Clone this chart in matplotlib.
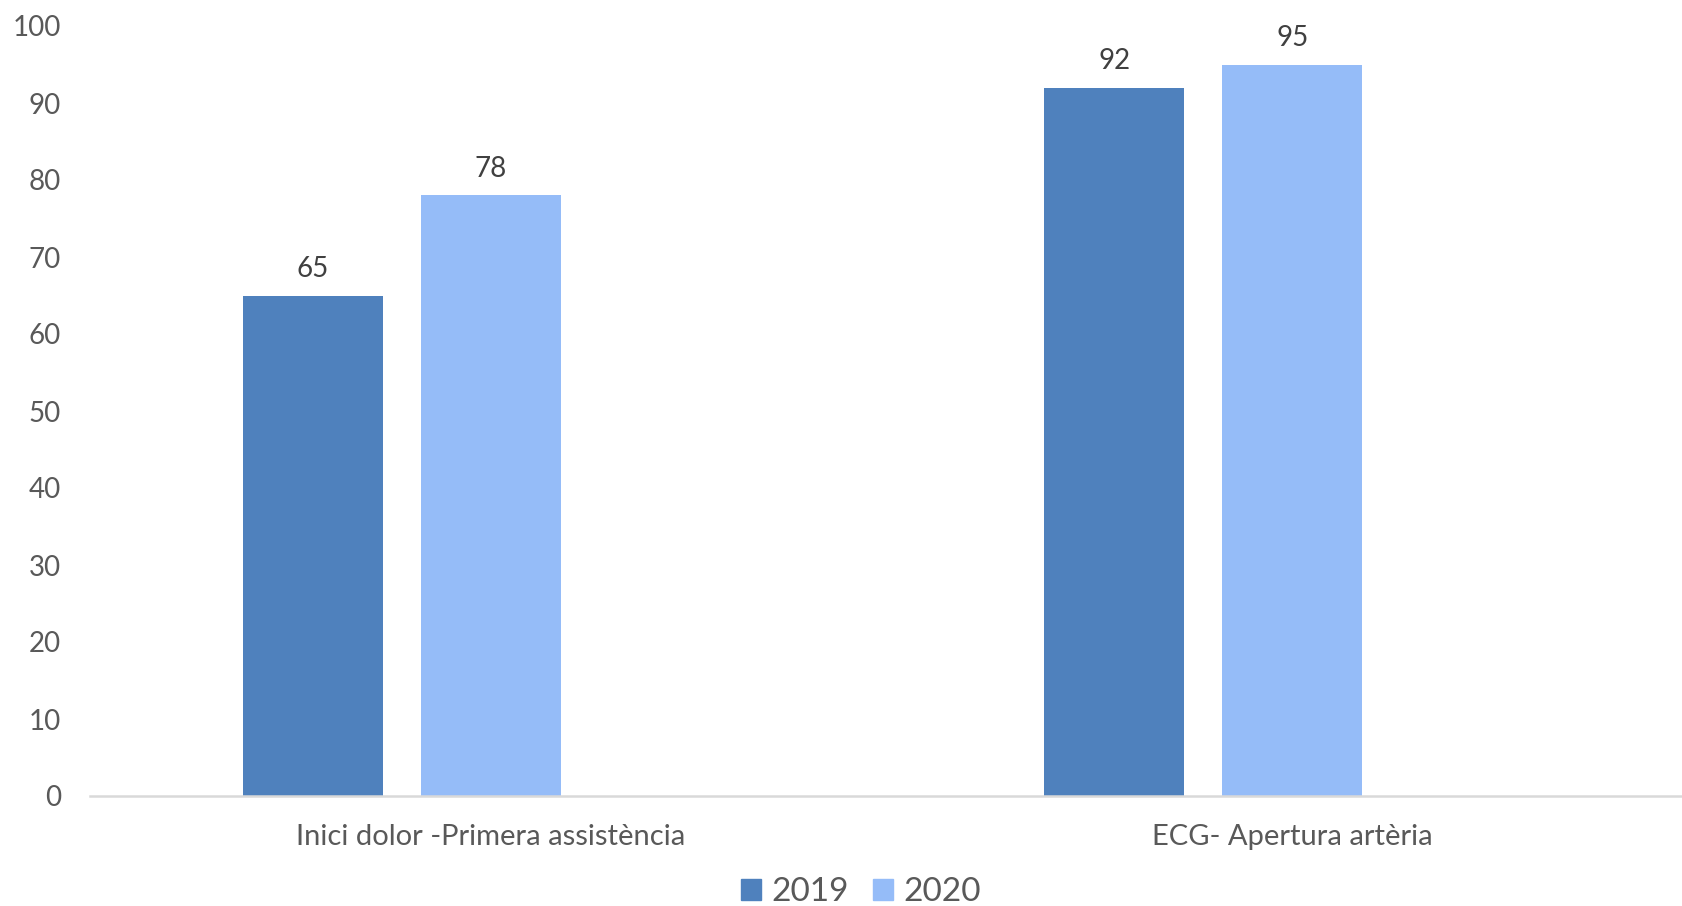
import numpy as np
import matplotlib
matplotlib.use('Agg')
import matplotlib.pyplot as plt
from matplotlib.patches import Patch

categories = ['Inici dolor -Primera assistència', 'ECG- Apertura artèria']
years = ['2019', '2020']
values_2019 = [65, 92]
values_2020 = [78, 95]
y_ticks = list(range(0, 101, 10))

colors = ['#4F81BD', '#95BCF8']

plt.rcParams['font.family'] = ['Lato', 'DejaVu Sans']

fig = plt.figure(figsize=(16.82, 9.06), dpi=100)
# axes runs a bit past the right edge, like the original export
ax = fig.add_axes([90 / 1682, 110 / 906, 1603 / 1682, 770 / 906])

x = np.arange(len(categories))
width = 0.175
step = 0.222

b1 = ax.bar(x - step, values_2019, width, color=colors[0], label=years[0])
b2 = ax.bar(x, values_2020, width, color=colors[1], label=years[1])

for bars in (b1, b2):
    ax.bar_label(bars, padding=10, fontsize=20, color='#404040')

ax.set_xlim(-0.5, 1.5)
ax.set_ylim(0, 100)
ax.set_yticks(y_ticks)
ax.set_xticks(x)
ax.set_xticklabels(categories)

ax.tick_params(axis='y', length=0, pad=21, labelsize=20, labelcolor='#595959')
ax.tick_params(axis='x', length=0, pad=20, labelsize=21, labelcolor='#595959')

for side in ('top', 'right', 'left'):
    ax.spines[side].set_visible(False)
ax.spines['bottom'].set_color('#D9D9D9')
ax.spines['bottom'].set_linewidth(1.8)

handles = [Patch(color=c, label=y) for c, y in zip(colors, years)]
fig.legend(handles=handles, loc='center', bbox_to_anchor=(861 / 1682, 14 / 906),
           ncol=2, frameon=False, fontsize=24, labelcolor='#595959',
           handlelength=0.6, handleheight=0.6, handletextpad=0.3, columnspacing=0.75)

fig.savefig('out.png', dpi=100)
